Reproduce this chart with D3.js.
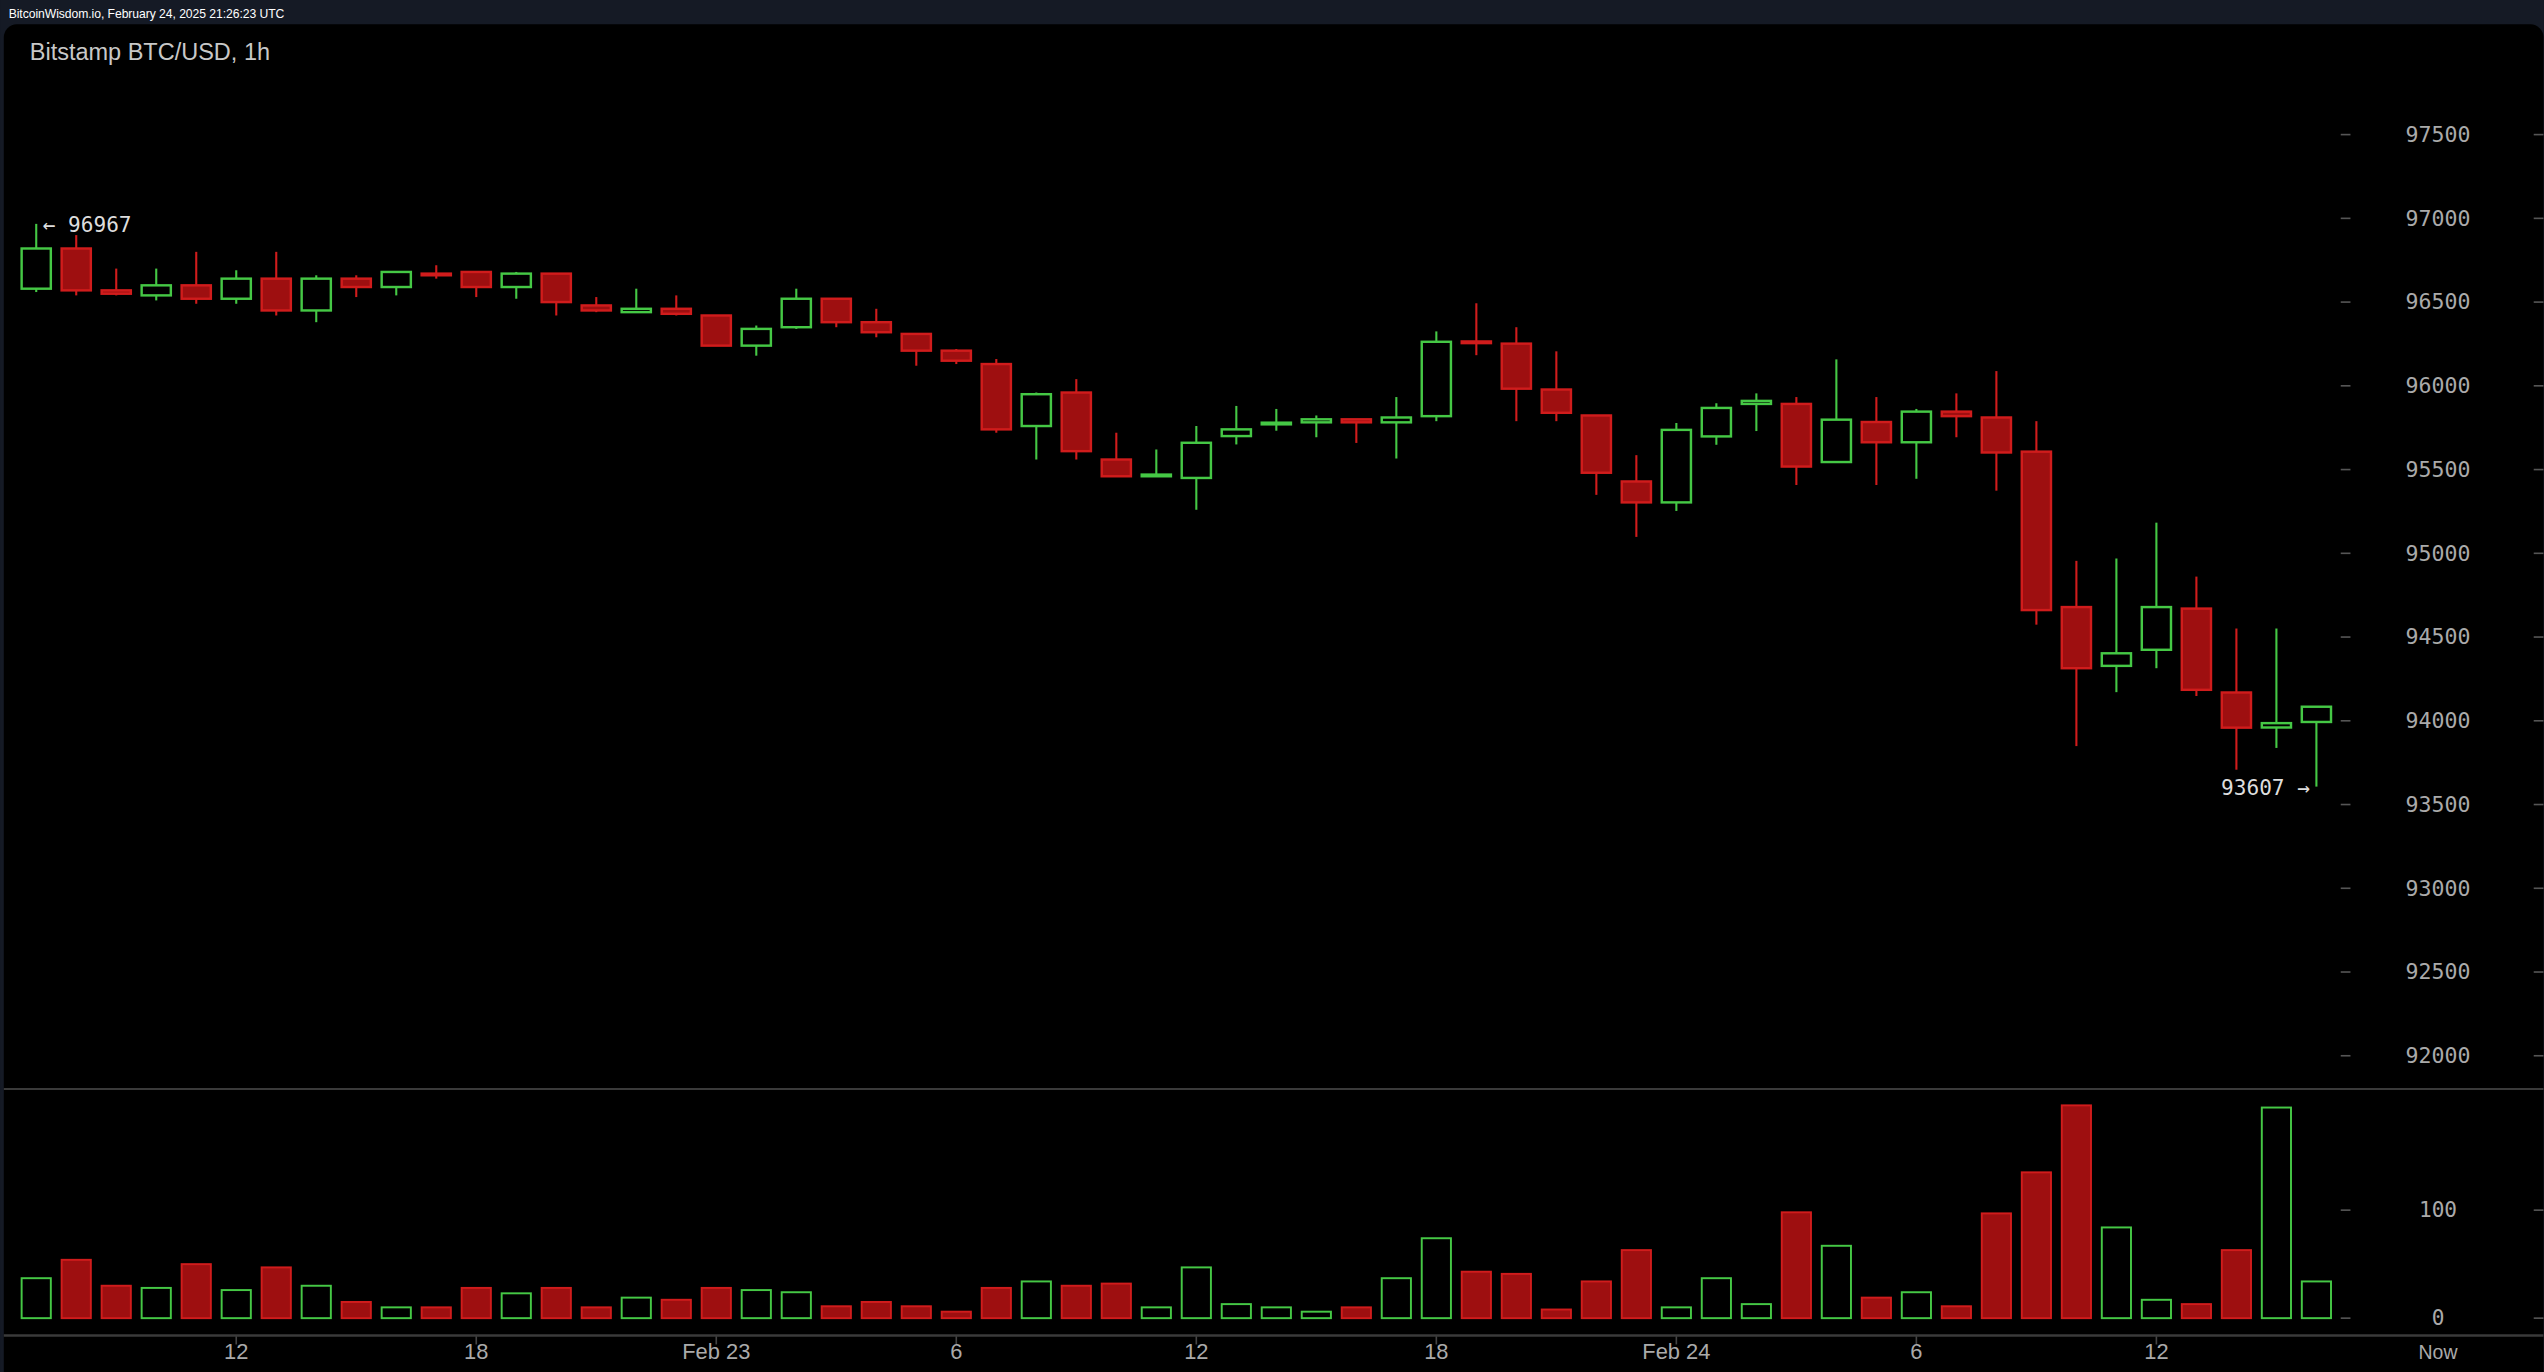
<!DOCTYPE html>
<html><head><meta charset="utf-8">
<script src="https://cdn.jsdelivr.net/npm/d3@7"></script>
<style>html,body{margin:0;padding:0;background:#151a25;overflow:hidden}</style>
</head><body>
<svg id="c" width="2544" height="1372" viewBox="0 0 1568 846"></svg>
<script>
const opens  = [96580,96820,96570,96540,96600,96520,96640,96450,96640,96590,96670,96680,96590,96670,96480,96440,96460,96420,96240,96350,96520,96380,96310,96210,96130,95760,95960,95560,95460,95450,95700,95770,95782,95800,95782,95819,96265,96252,95978,95823,95429,95304,95698,95892,95892,95545,95784,95663,95846,95811,95607,94679,94328,94424,94670,94169,93960,93993];
const highs  = [96967,96900,96700,96700,96800,96690,96800,96660,96660,96680,96720,96680,96680,96670,96530,96580,96540,96420,96360,96580,96520,96460,96310,96220,96160,95960,96040,95720,95620,95760,95880,95862,95823,95800,95933,96325,96493,96350,96206,95823,95586,95778,95896,95955,95933,96158,95933,95862,95955,96088,95789,94955,94969,95183,94861,94551,94551,94084];
const lows   = [96560,96540,96540,96510,96490,96490,96420,96380,96530,96540,96640,96530,96520,96420,96440,96440,96420,96240,96180,96340,96350,96290,96120,96130,95720,95560,95560,95460,95460,95260,95650,95732,95693,95659,95566,95789,96183,95789,95789,95349,95098,95253,95648,95730,95408,95545,95408,95445,95693,95374,94574,93849,94171,94314,94148,93708,93838,93607];
const closes = [96820,96570,96550,96600,96520,96640,96450,96640,96590,96680,96660,96590,96670,96500,96450,96460,96430,96240,96340,96520,96380,96320,96210,96150,95740,95950,95610,95460,95470,95660,95740,95780,95800,95782,95811,96263,96255,95983,95839,95481,95304,95737,95868,95910,95518,95798,95663,95846,95819,95602,94661,94314,94403,94679,94185,93959,93986,94084];
const volumes = [37,54,30,28,50,26,47,30,15,10,10,28,23,28,10,19,17,28,26,24,11,15,11,6,28,34,30,32,10,47,13,10,6,10,37,74,43,41,8,34,63,10,37,13,98,67,19,24,11,97,135,197,84,17,13,63,195,34];
const timeTicks = [{i:5,t:"12"},{i:11,t:"18"},{i:17,t:"Feb 23"},{i:23,t:"6"},{i:29,t:"12"},{i:35,t:"18"},{i:41,t:"Feb 24"},{i:47,t:"6"},{i:53,t:"12"}];
const priceTicks = [92000,92500,93000,93500,94000,94500,95000,95500,96000,96500,97000,97500];
const volTicks = [0,100];

const svg = d3.select("#c");
const RED="#9e0f10", REDS="#d01c1c", GREEN="#45c845";
svg.append("rect").attr("x",0).attr("y",0).attr("width",1568).attr("height",846).attr("fill","#151a25");
svg.append("text").attr("x",5).attr("y",11).attr("fill","#fff").attr("font-family","Liberation Sans, Arial").attr("font-size",7.5).attr("textLength",170).text("BitcoinWisdom.io, February 24, 2025 21:26:23 UTC");
svg.append("rect").attr("x",2).attr("y",15).attr("width",1566).attr("height",840).attr("rx",8).attr("fill","#000");
svg.append("text").attr("x",18).attr("y",37).attr("fill","#c8c8c8").attr("font-family","Liberation Sans, Arial").attr("font-size",14.5).text("Bitstamp BTC/USD, 1h");

const x = d3.scaleLinear().domain([0,57]).range([22,1428]);
const y = d3.scaleLinear().domain([92000,97500]).range([651,83]);
const yv = d3.scaleLinear().domain([0,100]).range([812.8,746.2]);
const bw = 19;

// dividers
svg.append("line").attr("x1",2).attr("x2",1568).attr("y1",671.5).attr("y2",671.5).attr("stroke","#3a3a3a").attr("stroke-width",1.2);
svg.append("line").attr("x1",2).attr("x2",1568).attr("y1",823.5).attr("y2",823.5).attr("stroke","#3a3a3a").attr("stroke-width",1.5);

const mono = "DejaVu Sans Mono, monospace";
// price axis
const pa = svg.append("g");
priceTicks.forEach(p=>{
  pa.append("line").attr("x1",1443).attr("x2",1449).attr("y1",y(p)).attr("y2",y(p)).attr("stroke","#555");
  pa.append("line").attr("x1",1562).attr("x2",1568).attr("y1",y(p)).attr("y2",y(p)).attr("stroke","#555");
  pa.append("text").attr("x",1503).attr("y",y(p)+4.5).attr("text-anchor","middle").attr("fill","#aaa").attr("font-family",mono).attr("font-size",13).attr("textLength",40).attr("lengthAdjust","spacingAndGlyphs").text(p);
});
volTicks.forEach(v=>{
  pa.append("line").attr("x1",1443).attr("x2",1449).attr("y1",yv(v)).attr("y2",yv(v)).attr("stroke","#555");
  pa.append("line").attr("x1",1562).attr("x2",1568).attr("y1",yv(v)).attr("y2",yv(v)).attr("stroke","#555");
  pa.append("text").attr("x",1503).attr("y",yv(v)+4.5).attr("text-anchor","middle").attr("fill","#aaa").attr("font-family",mono).attr("font-size",13).text(v);
});
// time axis
timeTicks.forEach(d=>{
  svg.append("line").attr("x1",x(d.i)).attr("x2",x(d.i)).attr("y1",824).attr("y2",829).attr("stroke","#444");
  svg.append("text").attr("x",x(d.i)).attr("y",838).attr("text-anchor","middle").attr("fill","#aaa").attr("font-family","Liberation Sans, Arial").attr("font-size",13.5).text(d.t);
});
svg.append("text").attr("x",1503).attr("y",838).attr("text-anchor","middle").attr("fill","#aaa").attr("font-family","Liberation Sans, Arial").attr("font-size",12).text("Now");

// volume
const data = opens.map((o,i)=>({i,o,h:highs[i],l:lows[i],c:closes[i],v:volumes[i],up:closes[i]>=o}));
svg.append("g").selectAll("rect").data(data).join("rect")
  .attr("x",d=>x(d.i)-bw/2+0.5).attr("width",bw-1)
  .attr("y",d=>yv(d.v)).attr("height",d=>yv(0)-yv(d.v))
  .attr("fill",d=>d.up?"none":RED).attr("stroke",d=>d.up?GREEN:REDS).attr("stroke-width",1.2);

// candles
const cg = svg.append("g");
cg.selectAll("line").data(data).join("line")
  .attr("x1",d=>x(d.i)).attr("x2",d=>x(d.i)).attr("y1",d=>y(d.h)).attr("y2",d=>y(d.l))
  .attr("stroke",d=>d.up?GREEN:REDS).attr("stroke-width",1.3);
cg.selectAll("rect").data(data).join("rect")
  .attr("x",d=>x(d.i)-bw/2+0.5).attr("width",bw-1)
  .attr("y",d=>y(Math.max(d.o,d.c))).attr("height",d=>Math.max(1,Math.abs(y(d.o)-y(d.c))))
  .attr("fill",d=>d.up?"#000":RED).attr("stroke",d=>d.up?GREEN:REDS).attr("stroke-width",1.5);

// annotations
const hiI = d3.maxIndex(highs), loI = d3.minIndex(lows);
svg.append("text").attr("x",x(hiI)+4).attr("y",y(highs[hiI])+5).attr("fill","#ddd").attr("font-family",mono).attr("font-size",13).text("← "+highs[hiI]);
svg.append("text").attr("x",x(loI)-4).attr("y",y(lows[loI])+5).attr("text-anchor","end").attr("fill","#ddd").attr("font-family",mono).attr("font-size",13).text(lows[loI]+" →");
</script>
</body></html>
